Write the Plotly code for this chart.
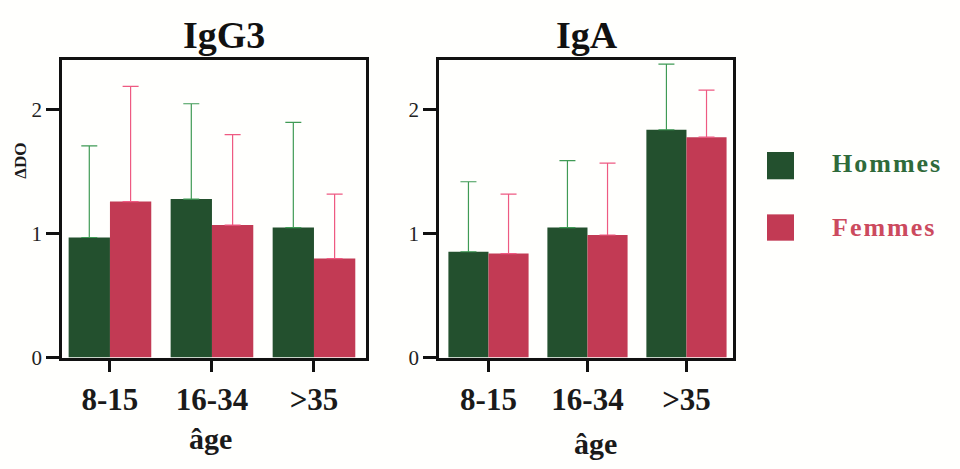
import plotly.graph_objects as go
from plotly.subplots import make_subplots

ages = ["8-15", "16-34", ">35"]
panels = ["IgG3", "IgA"]
x_title = "âge"
y_title = "ΔDO"
series_names = ["Hommes", "Femmes"]

igg3_hommes = [0.97, 1.28, 1.05]
igg3_hommes_sd = [0.74, 0.77, 0.85]
igg3_femmes = [1.26, 1.07, 0.80]
igg3_femmes_sd = [0.93, 0.73, 0.52]

iga_hommes = [0.855, 1.05, 1.84]
iga_hommes_sd = [0.565, 0.54, 0.53]
iga_femmes = [0.84, 0.99, 1.78]
iga_femmes_sd = [0.48, 0.58, 0.38]

y_ticks = [0, 1, 2]

GREEN = "#23502e"
RED = "#c23a54"
GREEN_ERR = "#3f9a55"
RED_ERR = "#ee5a82"
GREEN_TXT = "#2f6a3a"
RED_TXT = "#cc4a5e"
SERIF = "Liberation Serif"

fig = make_subplots(rows=1, cols=2)

data = [
    (1, igg3_hommes, igg3_hommes_sd, igg3_femmes, igg3_femmes_sd),
    (2, iga_hommes, iga_hommes_sd, iga_femmes, iga_femmes_sd),
]
for col, h, hsd, f, fsd in data:
    fig.add_trace(go.Bar(
        x=ages, y=h, name=series_names[0], marker=dict(color=GREEN, line=dict(width=0)),
        error_y=dict(type="data", symmetric=False, array=hsd, arrayminus=[0] * len(hsd),
                     color=GREEN_ERR, thickness=1.2, width=8),
        showlegend=False), row=1, col=col)
    fig.add_trace(go.Bar(
        x=ages, y=f, name=series_names[1], marker=dict(color=RED, line=dict(width=0)),
        error_y=dict(type="data", symmetric=False, array=fsd, arrayminus=[0] * len(fsd),
                     color=RED_ERR, thickness=1.2, width=8),
        showlegend=False), row=1, col=col)

axis_common = dict(showline=True, linecolor="#111111", linewidth=2.5, mirror=True,
                   showgrid=False, zeroline=False, ticks="outside", tickcolor="#111111",
                   tickwidth=2.5)

fig.update_xaxes(**axis_common, ticklen=12,
                 tickfont=dict(family=SERIF, size=31, color="#1a1a1a", weight="bold"))
fig.update_yaxes(**axis_common, ticklen=13, range=[0, 2.4], tickvals=y_ticks,
                 tickfont=dict(family=SERIF, size=21, color="#222222"))

fig.update_layout(
    font=dict(family=SERIF),
    xaxis=dict(domain=[62 / 960, 366 / 960], range=[-0.47, 2.51]),
    xaxis2=dict(domain=[439 / 960, 733 / 960], range=[-0.5, 2.47]),
    yaxis=dict(domain=[1 - 367 / 469, 1 - 62 / 469]),
    yaxis2=dict(domain=[1 - 367 / 469, 1 - 62 / 469]),
    barmode="group", bargap=0.19, bargroupgap=0,
    width=960, height=469, margin=dict(l=0, r=0, t=0, b=0),
    paper_bgcolor="#fffffd", plot_bgcolor="#fffffd",
    showlegend=False,
)


def px(x):
    return x / 960


def py(y):
    return 1 - y / 469


ann = []
ann.append(dict(text="<b>" + panels[0] + "</b>",
                x=px(224), y=py(36), font=dict(family=SERIF, size=38, color="#111111")))
ann.append(dict(text="<b>" + panels[1] + "</b>",
                x=px(587), y=py(36), font=dict(family=SERIF, size=38, color="#111111")))
ann.append(dict(text="<b>" + x_title + "</b>", x=px(210), y=py(450),
                font=dict(family=SERIF, size=30, color="#1a1a1a")))
ann.append(dict(text="<b>" + x_title + "</b>", x=px(595), y=py(455),
                font=dict(family=SERIF, size=30, color="#1a1a1a")))
ann.append(dict(text="<b>" + y_title + "</b>", x=px(21), y=py(165), textangle=-90,
                font=dict(family=SERIF, size=17, color="#1a1a1a")))
ann.append(dict(text="<span style='letter-spacing:2px'><b>" + series_names[0] + "</b></span>",
                x=px(830), y=py(168), xanchor="left",
                font=dict(family=SERIF, size=26, color=GREEN_TXT)))
ann.append(dict(text="<span style='letter-spacing:2px'><b>" + series_names[1] + "</b></span>",
                x=px(830), y=py(233), xanchor="left",
                font=dict(family=SERIF, size=26, color=RED_TXT)))
for a in ann:
    a.update(xref="paper", yref="paper", showarrow=False, yanchor="middle")
    a.setdefault("xanchor", "center")
fig.update_layout(annotations=ann)

fig.add_shape(type="rect", xref="paper", yref="paper", x0=px(767), x1=px(794),
              y0=py(184), y1=py(156), fillcolor=GREEN, line=dict(width=0))
fig.add_shape(type="rect", xref="paper", yref="paper", x0=px(767), x1=px(794),
              y0=py(247), y1=py(220), fillcolor=RED, line=dict(width=0))

fig.write_html("out.html")
